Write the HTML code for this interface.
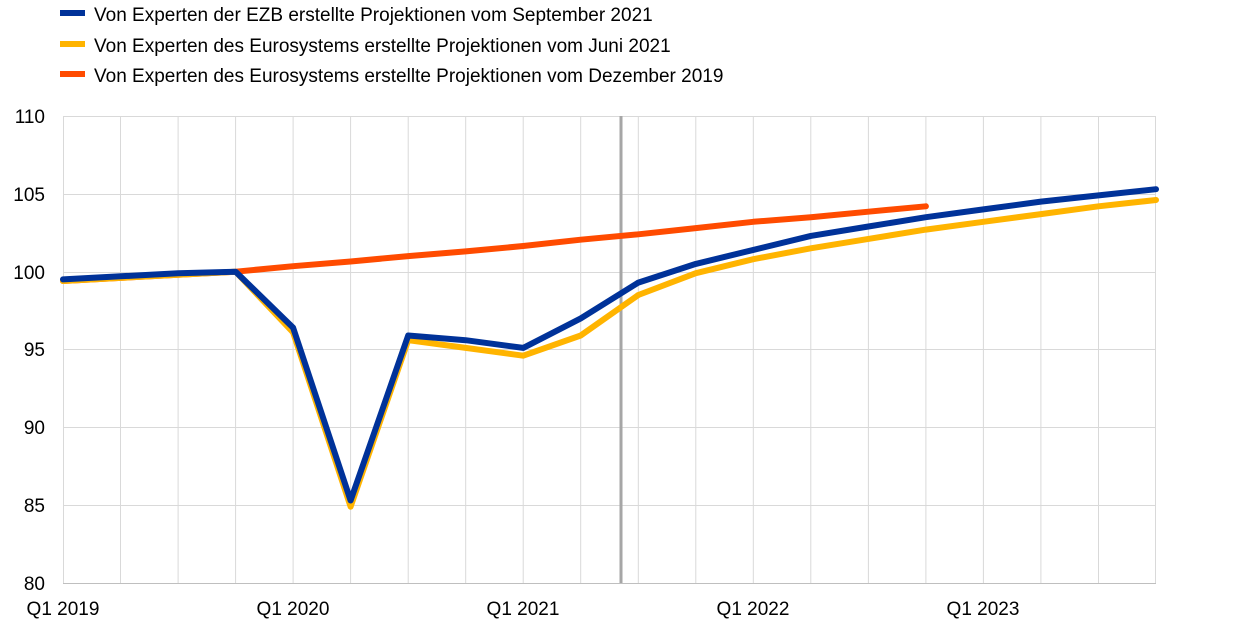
<!DOCTYPE html>
<html><head><meta charset="utf-8"><style>
body{margin:0;background:#fff;}
svg{display:block;font-family:"Liberation Sans",Arial,sans-serif;}
</style></head><body>
<svg width="1240" height="634" viewBox="0 0 1240 634">
<g font-size="19" fill="#000">
<rect x="60" y="10" width="25" height="6" fill="#003299"/><text x="94" y="21">Von Experten der EZB erstellte Projektionen vom September 2021</text>
<rect x="60" y="41" width="25" height="6" fill="#FFB400"/><text x="94" y="52">Von Experten des Eurosystems erstellte Projektionen vom Juni 2021</text>
<rect x="60" y="71" width="25" height="6" fill="#FF4B00"/><text x="94" y="82">Von Experten des Eurosystems erstellte Projektionen vom Dezember 2019</text>
</g>
<g stroke="#d9d9d9" stroke-width="1">
<line x1="63" y1="116.5" x2="1156" y2="116.5"/>
<line x1="63" y1="194.5" x2="1156" y2="194.5"/>
<line x1="63" y1="272.5" x2="1156" y2="272.5"/>
<line x1="63" y1="349.5" x2="1156" y2="349.5"/>
<line x1="63" y1="427.5" x2="1156" y2="427.5"/>
<line x1="63" y1="505.5" x2="1156" y2="505.5"/>
<line x1="63.5" y1="116" x2="63.5" y2="583"/>
<line x1="120.5" y1="116" x2="120.5" y2="583"/>
<line x1="178.1" y1="116" x2="178.1" y2="583"/>
<line x1="235.6" y1="116" x2="235.6" y2="583"/>
<line x1="293.1" y1="116" x2="293.1" y2="583"/>
<line x1="350.6" y1="116" x2="350.6" y2="583"/>
<line x1="408.2" y1="116" x2="408.2" y2="583"/>
<line x1="465.7" y1="116" x2="465.7" y2="583"/>
<line x1="523.2" y1="116" x2="523.2" y2="583"/>
<line x1="580.7" y1="116" x2="580.7" y2="583"/>
<line x1="638.3" y1="116" x2="638.3" y2="583"/>
<line x1="695.8" y1="116" x2="695.8" y2="583"/>
<line x1="753.3" y1="116" x2="753.3" y2="583"/>
<line x1="810.8" y1="116" x2="810.8" y2="583"/>
<line x1="868.4" y1="116" x2="868.4" y2="583"/>
<line x1="925.9" y1="116" x2="925.9" y2="583"/>
<line x1="983.4" y1="116" x2="983.4" y2="583"/>
<line x1="1040.9" y1="116" x2="1040.9" y2="583"/>
<line x1="1098.5" y1="116" x2="1098.5" y2="583"/>
<line x1="1155.5" y1="116" x2="1155.5" y2="583"/>
</g>
<line x1="63" y1="583.5" x2="1156" y2="583.5" stroke="#bfbfbf" stroke-width="1"/>
<line x1="621" y1="116" x2="621" y2="583" stroke="#a6a6a6" stroke-width="3"/>
<g font-size="19" fill="#000" text-anchor="end">
<text x="45" y="123">110</text><text x="45" y="201">105</text><text x="45" y="279">100</text>
<text x="45" y="356">95</text><text x="45" y="434">90</text><text x="45" y="512">85</text><text x="45" y="590">80</text>
</g>
<g font-size="19" fill="#000" text-anchor="middle">
<text x="63" y="615">Q1 2019</text><text x="293" y="615">Q1 2020</text><text x="523" y="615">Q1 2021</text>
<text x="753" y="615">Q1 2022</text><text x="983" y="615">Q1 2023</text>
</g>
<g fill="none" stroke-width="6" stroke-linejoin="round" stroke-linecap="round">
<path stroke="#FF4B00" d="M63,281.0L120.5,277.9L178.1,274.8L235.6,271.7L293.1,266.2L350.6,261.5L408.2,256.1L465.7,251.4L523.2,246.0L580.7,239.7L638.3,234.3L695.8,228.1L753.3,221.8L810.8,217.2L868.4,211.7L925.9,206.3"/>
<path stroke="#FFB400" d="M63,281.0L120.5,277.9L178.1,274.8L235.6,271.7L293.1,332.4L350.6,506.7L408.2,340.2L465.7,347.9L523.2,355.7L580.7,335.5L638.3,295.0L695.8,273.2L753.3,259.2L810.8,248.3L868.4,238.9L925.9,229.6L983.4,221.8L1040.9,214.1L1098.5,206.3L1156,200.0"/>
<path stroke="#003299" d="M63,279.4L120.5,276.3L178.1,273.2L235.6,271.7L293.1,327.7L350.6,500.5L408.2,335.5L465.7,340.2L523.2,347.9L580.7,318.4L638.3,282.6L695.8,263.9L753.3,249.9L810.8,235.9L868.4,226.5L925.9,217.2L983.4,209.4L1040.9,201.6L1098.5,195.4L1156,189.2"/>
</g>
</svg>
</body></html>
